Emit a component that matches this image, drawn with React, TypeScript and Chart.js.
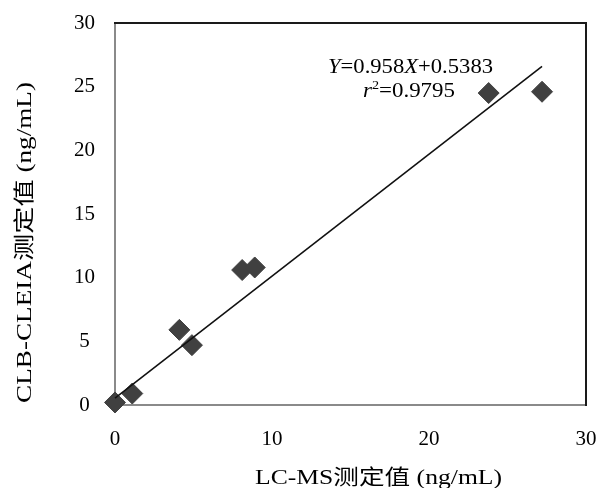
import React, { useEffect, useRef } from 'react';
import { Chart, registerables } from 'chart.js';

Chart.register(...registerables);

// ---- data ----
const lcmsValues = [0, 1.1, 4.1, 4.9, 8.1, 8.9, 23.8, 27.2];
const clbValues = [0.2, 0.9, 5.9, 4.7, 10.6, 10.8, 24.5, 24.6];
const fitSlope = 0.958;
const fitIntercept = 0.5383;
const fitRange = [0, 27.2];
const xTickValues = [0, 10, 20, 30];
const yTickValues = [0, 5, 10, 15, 20, 25, 30];
const xTitle = 'LC-MS测定值 (ng/mL)';
const yTitle = 'CLB-CLEIA测定值 (ng/mL)';
const eqLine1 = [
  { t: 'Y', italic: true },
  { t: '=0.958' },
  { t: 'X', italic: true },
  { t: '+0.5383' },
];
const eqLine2 = [
  { t: 'r', italic: true },
  { t: '2', sup: true },
  { t: '=0.9795' },
];

const FONT = "'Liberation Serif', 'Times New Roman', 'Noto Sans CJK SC', serif";

type Seg = { t: string; italic?: boolean; sup?: boolean };

function segFont(s: Seg, size: number) {
  return `${s.italic ? 'italic ' : ''}${s.sup ? Math.round(size * 0.6) : size}px ${FONT}`;
}

function richWidth(ctx: CanvasRenderingContext2D, segs: Seg[], size: number) {
  let w = 0;
  for (const s of segs) {
    ctx.font = segFont(s, size);
    w += ctx.measureText(s.t).width;
  }
  return w;
}

function drawRich(
  ctx: CanvasRenderingContext2D,
  segs: Seg[],
  size: number,
  left: number,
  baseline: number,
  targetWidth: number
) {
  ctx.save();
  ctx.fillStyle = '#000';
  ctx.textAlign = 'left';
  ctx.textBaseline = 'alphabetic';
  const w = richWidth(ctx, segs, size);
  ctx.translate(left, baseline);
  ctx.scale(targetWidth / w, 1);
  let x = 0;
  for (const s of segs) {
    ctx.font = segFont(s, size);
    ctx.fillText(s.t, x, s.sup ? -size * 0.38 : 0);
    x += ctx.measureText(s.t).width;
  }
  ctx.restore();
}

const decorPlugin = {
  id: 'decor',
  beforeDatasetsDraw(chart: any) {
    const { ctx, chartArea } = chart;
    ctx.save();
    ctx.strokeStyle = '#1a1a1a';
    ctx.lineWidth = 2;
    ctx.beginPath();
    ctx.moveTo(chartArea.left - 1, chartArea.top);
    ctx.lineTo(chartArea.right, chartArea.top);
    ctx.lineTo(chartArea.right, chartArea.bottom + 1);
    ctx.stroke();
    ctx.restore();
  },
  afterDraw(chart: any) {
    const ctx: CanvasRenderingContext2D = chart.ctx;
    // x axis title
    drawRich(ctx, [{ t: xTitle }], 21, 255, 484, 247);
    // y axis title (rotated)
    ctx.save();
    ctx.translate(31, 242.5);
    ctx.rotate(-Math.PI / 2);
    drawRich(ctx, [{ t: yTitle }], 21, -160.5, 0, 321);
    ctx.restore();
    // equation
    drawRich(ctx, eqLine1, 21, 328, 73, 165);
    drawRich(ctx, eqLine2, 21, 363, 97, 92);
  },
};

export default function App() {
  const ref = useRef<HTMLCanvasElement>(null);

  useEffect(() => {
    if (!ref.current) return;
    const tickFont = { family: FONT, size: 21 };
    const chart = new Chart(ref.current, {
      type: 'scatter',
      data: {
        datasets: [
          {
            type: 'line',
            data: fitRange.map((x) => ({ x, y: fitSlope * x + fitIntercept })),
            borderColor: '#111',
            borderWidth: 1.6,
            pointRadius: 0,
            fill: false,
            clip: false as any,
          },
          {
            type: 'scatter',
            data: lcmsValues.map((x, i) => ({ x, y: clbValues[i] })),
            pointStyle: 'rectRot',
            pointRadius: 10.5,
            backgroundColor: '#404040',
            borderColor: '#404040',
            borderWidth: 1,
            clip: false as any,
          },
        ],
      },
      options: {
        responsive: false,
        animation: false,
        layout: { padding: { left: 0, top: 23, right: 14, bottom: 0 } },
        plugins: {
          legend: { display: false },
          tooltip: { enabled: false },
        },
        scales: {
          x: {
            type: 'linear',
            min: 0,
            max: 30,
            afterBuildTicks: (s: any) => {
              s.ticks = xTickValues.map((v) => ({ value: v }));
            },
            afterFit: (s: any) => {
              s.height = 83;
              s.paddingLeft = 0;
              s.paddingRight = 0;
              s.paddingTop = 0;
              s.paddingBottom = 0;
            },
            grid: { display: false, drawTicks: false },
            border: { display: true, color: '#8a8a8a', width: 2 },
            ticks: { font: tickFont, color: '#000', padding: 22, maxRotation: 0 },
          },
          y: {
            type: 'linear',
            min: 0,
            max: 30,
            afterBuildTicks: (s: any) => {
              s.ticks = yTickValues.map((v) => ({ value: v }));
            },
            afterFit: (s: any) => {
              s.width = 115;
              s.paddingLeft = 0;
              s.paddingRight = 0;
              s.paddingTop = 0;
              s.paddingBottom = 0;
            },
            grid: { display: false, drawTicks: false },
            border: { display: true, color: '#8a8a8a', width: 2 },
            ticks: { font: tickFont, color: '#000', padding: 20, crossAlign: 'center' },
          },
        },
      },
      plugins: [decorPlugin],
    } as any);
    return () => chart.destroy();
  }, []);

  return (
    <div style={{ position: 'absolute', left: 0, top: 0, width: 600, height: 488, background: '#fff' }}>
      <canvas ref={ref} width={600} height={488} />
    </div>
  );
}
